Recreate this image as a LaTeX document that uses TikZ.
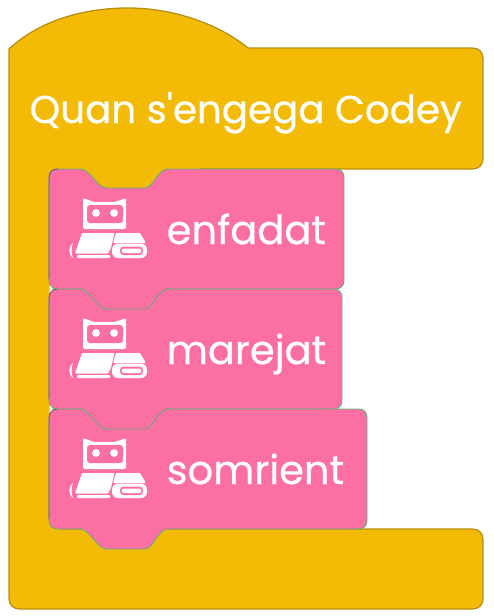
\documentclass[tikz,border=0pt]{standalone}
\usepackage{fontspec}
\newfontfamily\blockfont[FakeBold=0.5]{Poppins}
\definecolor{hatY}{HTML}{F4BB06}
\definecolor{hatB}{HTML}{B8900F}
\definecolor{blkP}{HTML}{FB6FA3}
\definecolor{edgeG}{HTML}{62B07A}
\definecolor{edgeV}{HTML}{6A4FA0}
\tikzset{
  hatshape/.style={fill=hatY,draw=hatB,line width=1.3pt,line join=round},
  blockfill/.style={fill=blkP,draw=edgeG,line width=0.9pt,line join=round},
  blockedge/.style={draw=edgeV,line width=0.8pt},
  icon/.style={fill=white,draw=none},
  title/.style={text=white,font=\blockfont\fontsize{38.8}{42}\selectfont,anchor=base west,inner sep=0pt},
  label/.style={text=white,font=\blockfont\fontsize{40}{44}\selectfont,anchor=base west,inner sep=0pt}
}
\newcommand{\notchT}[1]{ -- (80,#1) .. controls (90,#1) and (97,{#1+19}) .. (107,{#1+19}) -- (145,{#1+19}) .. controls (153,{#1+19}) and (158,#1) .. (168,#1)}
\newcommand{\notchB}[1]{ -- (168,#1) .. controls (158,#1) and (153,{#1+20}) .. (145,{#1+20}) -- (107,{#1+20}) .. controls (97,{#1+20}) and (90,#1) .. (80,#1)}
\newcommand{\blockshape}[3]{
  \path[blockfill] (49,{#1+10}) .. controls (49,{#1+3}) and (52,#1) .. (58,#1) \notchT{#1}
    -- ({#2-9},#1) .. controls ({#2-3},#1) and (#2,{#1+3}) .. (#2,{#1+9})
    -- (#2,{#3-9}) .. controls (#2,{#3-3}) and ({#2-3},#3) .. ({#2-9},#3)
    \notchB{#3} -- (58,#3) .. controls (52,#3) and (49,{#3-3}) .. (49,{#3-10}) -- cycle;
  \draw[blockedge] (49,{#3-10}) -- (49,{#1+10}) .. controls (49,{#1+3}) and (52,#1) .. (58,#1);
}
\begin{document}
\begin{tikzpicture}[x=1pt,y=-1pt,
  robot/.pic={
    \path[icon,rounded corners=1.5pt] (83,29) -- (94,33) -- (115,33) -- (126,29) -- (126,60) -- (83,60) -- cycle;
    \path[fill=blkP,rounded corners=3pt] (87,36) rectangle (123,54);
    \path[icon] (96,44) circle (3.9);
    \path[icon] (114,44) circle (3.9);
    \path[icon,rounded corners=1pt] (82,64) -- (114.5,64) -- (111,79) -- (108,84.5) -- (75,84.5) -- cycle;
    \path[icon,rounded corners=1pt] (77,86) rectangle (110,89);
    \path[icon] (73,74) .. controls (68,79) and (68,84) .. (73,89) .. controls (71,83) and (71,80) .. (73,74) -- cycle;
    \path[icon,rounded corners=1pt] (116,64) -- (140,64) -- (146,74) -- (113,74) -- cycle;
    \path[icon,rounded corners=6pt] (112,74.5) rectangle (147,89);
    \path[fill=blkP,rounded corners=3.5pt] (120,77.5) rectangle (143,86);
    \path[fill=white,rounded corners=2.5pt] (121.5,79.5) rectangle (141.5,84);
  }]
\useasboundingbox (0,0) rectangle (494,616);
% hat block
\path[hatshape] (9,49) .. controls (40,20) and (85,8) .. (128,8) .. controls (175,8) and (220,25) .. (248,48)
  -- (472,48) .. controls (479,48) and (483,52) .. (483,59)
  -- (483,158) .. controls (483,165) and (479,169) .. (472,169)
  -- (200,169) -- (200,200) -- (60,200) -- (60,529)
  -- (472,529) .. controls (479,529) and (483,533) .. (483,540)
  -- (483,598) .. controls (483,605) and (479,609) .. (472,609)
  -- (20,609) .. controls (13,609) and (9,605) .. (9,598) -- cycle;
\node[title] (hattext) at (29.5,123) {Quan s'engega Codey};
% stack blocks
\blockshape{409}{367}{529}
\blockshape{289}{342}{409}
\blockshape{169}{344}{289}
\coordinate (jA) at (51,289);
\coordinate (jB) at (51,409);
\path[fill=white] (jA) ++(-1.5,-4) -- ++(3.5,4) -- ++(-3.5,4) -- cycle;
\path[fill=white] (jB) ++(-1.5,-4) -- ++(3.5,4) -- ++(-3.5,4) -- cycle;
\pic at (0,169) {robot};
\pic at (0,289) {robot};
\pic at (0,409) {robot};
\node[label] (t1) at (166.5,244) {enfadat};
\node[label] (t2) at (166.5,364) {marejat};
\node[label] (t3) at (166.5,484) {somrient};
\end{tikzpicture}
\end{document}
